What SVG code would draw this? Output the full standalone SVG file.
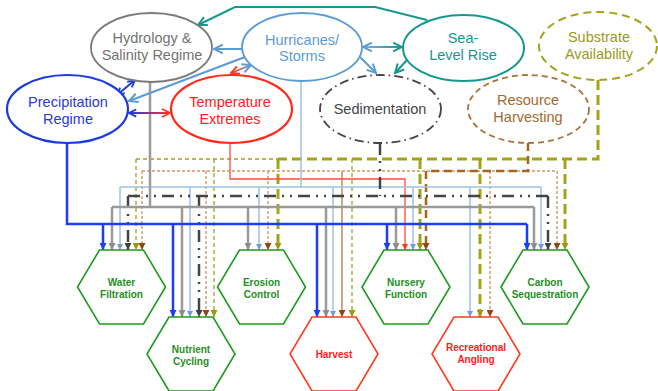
<svg xmlns="http://www.w3.org/2000/svg" width="658" height="391" viewBox="0 0 658 391">
<defs>
<style>
.lbl{font-family:"Liberation Sans",Arial,sans-serif;font-size:14.5px;text-anchor:middle}
.hx{font-family:"Liberation Sans",Arial,sans-serif;font-size:10px;font-weight:bold;text-anchor:middle}
.hexg{fill:#fff;stroke:#1e9a1e;stroke-width:1.6}
.hexr{fill:#fff;stroke:#ff3b1f;stroke-width:1.6}
.ln{fill:none}
.blue{stroke:#1a3cff;stroke-width:2.5}
.gray{stroke:#9a9a9a;stroke-width:2.5}
.lb{stroke:#9cc0e6;stroke-width:1.5}
.dk{stroke:#444;stroke-width:2.5;stroke-dasharray:12 6 2 6 2 6}
.red{stroke:#ff4a3a;stroke-width:1.3}
.olT{stroke:#a3a31a;stroke-width:3;stroke-dasharray:10 5}
.olt{stroke:#a3a31a;stroke-width:1.3;stroke-dasharray:4 3}
.brT{stroke:#a8641f;stroke-width:2.5;stroke-dasharray:8 5}
.brt{stroke:#c99a66;stroke-width:1.4;stroke-dasharray:3 2}
.brs{stroke:#b07a40;stroke-width:1.3}
</style>
<marker id="aBlue" viewBox="0 0 10 10" refX="10" refY="5" markerWidth="7" markerHeight="7" markerUnits="userSpaceOnUse" orient="auto"><path d="M0,0L10,5L0,10z" fill="#1a3cff"/></marker>
<marker id="aGray" viewBox="0 0 10 10" refX="10" refY="5" markerWidth="7" markerHeight="7" markerUnits="userSpaceOnUse" orient="auto"><path d="M0,0L10,5L0,10z" fill="#8c8c8c"/></marker>
<marker id="aLb" viewBox="0 0 10 10" refX="10" refY="5" markerWidth="6" markerHeight="6" markerUnits="userSpaceOnUse" orient="auto"><path d="M0,0L10,5L0,10z" fill="#6f9fd6"/></marker>
<marker id="aDk" viewBox="0 0 10 10" refX="10" refY="5" markerWidth="7" markerHeight="7" markerUnits="userSpaceOnUse" orient="auto"><path d="M0,0L10,5L0,10z" fill="#404040"/></marker>
<marker id="aRed" viewBox="0 0 10 10" refX="10" refY="5" markerWidth="6" markerHeight="6" markerUnits="userSpaceOnUse" orient="auto"><path d="M0,0L10,5L0,10z" fill="#ff3322"/></marker>
<marker id="aOl" viewBox="0 0 10 10" refX="10" refY="5" markerWidth="7" markerHeight="7" markerUnits="userSpaceOnUse" orient="auto"><path d="M0,0L10,5L0,10z" fill="#9a9a10"/></marker>
<marker id="aBr" viewBox="0 0 10 10" refX="10" refY="5" markerWidth="7" markerHeight="7" markerUnits="userSpaceOnUse" orient="auto"><path d="M0,0L10,5L0,10z" fill="#8a4a12"/></marker>
<marker id="vTeal" viewBox="0 0 10 10" refX="9" refY="5" markerWidth="11" markerHeight="11" markerUnits="userSpaceOnUse" orient="auto-start-reverse"><path d="M1,1L9,5L1,9" fill="none" stroke="#17988f" stroke-width="1.8"/></marker>
<marker id="vSteel" viewBox="0 0 10 10" refX="9" refY="5" markerWidth="11" markerHeight="11" markerUnits="userSpaceOnUse" orient="auto-start-reverse"><path d="M1,1L9,5L1,9" fill="none" stroke="#5b9bd5" stroke-width="1.8"/></marker>
<marker id="vBlue" viewBox="0 0 10 10" refX="9" refY="5" markerWidth="9" markerHeight="9" markerUnits="userSpaceOnUse" orient="auto-start-reverse"><path d="M1,1L9,5L1,9" fill="none" stroke="#1a3adf" stroke-width="2"/></marker>
<marker id="vRed" viewBox="0 0 10 10" refX="9" refY="5" markerWidth="10" markerHeight="10" markerUnits="userSpaceOnUse" orient="auto-start-reverse"><path d="M1,1L9,5L1,9" fill="none" stroke="#ff3322" stroke-width="1.8"/></marker>
<linearGradient id="gPT" gradientUnits="userSpaceOnUse" x1="128" y1="113" x2="171" y2="113"><stop offset="0" stop-color="#1a3adf"/><stop offset="1" stop-color="#ff3322"/></linearGradient>
<linearGradient id="gHT" gradientUnits="userSpaceOnUse" x1="252" y1="65" x2="230" y2="73"><stop offset="0" stop-color="#5b9bd5"/><stop offset="1" stop-color="#ff3322"/></linearGradient>
<linearGradient id="gHS" gradientUnits="userSpaceOnUse" x1="362" y1="47" x2="403" y2="47"><stop offset="0" stop-color="#7fb0e0"/><stop offset="1" stop-color="#17988f"/></linearGradient>
</defs>
<rect width="658" height="391" fill="#fff"/>

<g id="connectors">
<path class="ln olt" d="M136,159H278"/>
<path class="ln olt" d="M136,159V250" marker-end="url(#aOl)"/>
<path class="ln olt" d="M214,159V317" marker-end="url(#aOl)"/>
<path class="ln olt" d="M352,159V317" marker-end="url(#aOl)"/>
<path class="ln olT" d="M598,80V159H278"/>
<path class="ln olT" d="M278,159V250" marker-end="url(#aOl)"/>
<path class="ln olT" d="M420,159V250" marker-end="url(#aOl)"/>
<path class="ln olT" d="M480,159V317" marker-end="url(#aOl)"/>
<path class="ln olT" d="M565,159V250" marker-end="url(#aOl)"/>
<path class="ln brt" d="M142,171H557"/>
<path class="ln brt" d="M142,171V250" marker-end="url(#aBr)"/>
<path class="ln brt" d="M206,171V317" marker-end="url(#aBr)"/>
<path class="ln brt" d="M268,171V250" marker-end="url(#aBr)"/>
<path class="ln brt" d="M490,171V317" marker-end="url(#aBr)"/>
<path class="ln brt" d="M557,171V250" marker-end="url(#aBr)"/>
<path class="ln brs" d="M342,171V317" marker-end="url(#aBr)"/>
<path class="ln brT" d="M528,143V171H426V250" marker-end="url(#aBr)"/>
<path class="ln red" d="M230,143V179H405V250" marker-end="url(#aRed)"/>
<path class="ln lb" d="M301,81V187"/>
<path class="ln lb" d="M120,187H541"/>
<path class="ln lb" d="M120,187V250" marker-end="url(#aLb)"/>
<path class="ln lb" d="M190,187V317" marker-end="url(#aLb)"/>
<path class="ln lb" d="M259,187V250" marker-end="url(#aLb)"/>
<path class="ln lb" d="M333,187V317" marker-end="url(#aLb)"/>
<path class="ln lb" d="M413,187V250" marker-end="url(#aLb)"/>
<path class="ln lb" d="M470,187V317" marker-end="url(#aLb)"/>
<path class="ln lb" d="M541,187V250" marker-end="url(#aLb)"/>
<path class="ln dk" d="M380,143V196"/>
<path class="ln dk" d="M128,196H548"/>
<path class="ln dk" d="M128,196V250" marker-end="url(#aDk)"/>
<path class="ln dk" d="M199,196V317" marker-end="url(#aDk)"/>
<path class="ln dk" d="M548,196V250" marker-end="url(#aDk)"/>
<path class="ln gray" d="M150,82V207"/>
<path class="ln gray" d="M112,207H534"/>
<path class="ln gray" d="M112,207V250" marker-end="url(#aGray)"/>
<path class="ln gray" d="M182,207V317" marker-end="url(#aGray)"/>
<path class="ln gray" d="M248,207V250" marker-end="url(#aGray)"/>
<path class="ln gray" d="M326,207V317" marker-end="url(#aGray)"/>
<path class="ln gray" d="M396,207V250" marker-end="url(#aGray)"/>
<path class="ln gray" d="M534,207V250" marker-end="url(#aGray)"/>
<path class="ln blue" d="M67,143V224H527"/>
<path class="ln blue" d="M103,224V250" marker-end="url(#aBlue)"/>
<path class="ln blue" d="M173,224V317" marker-end="url(#aBlue)"/>
<path class="ln blue" d="M317,224V317" marker-end="url(#aBlue)"/>
<path class="ln blue" d="M387,224V250" marker-end="url(#aBlue)"/>
<path class="ln blue" d="M527,224V250" marker-end="url(#aBlue)"/>
<path class="ln" d="M427,20L375,7H235L198,25" stroke="#17988f" stroke-width="2" marker-end="url(#vTeal)"/>
<path class="ln" d="M242,49H214" stroke="#5b9bd5" stroke-width="2" marker-end="url(#vSteel)"/>
<path class="ln" d="M245,57L129,101" stroke="#5b9bd5" stroke-width="2" marker-end="url(#vSteel)"/>
<path class="ln" d="M117,95L135,80" stroke="#1a3adf" stroke-width="2" marker-start="url(#vBlue)" marker-end="url(#vBlue)"/>
<path class="ln" d="M129,113H170" stroke="url(#gPT)" stroke-width="2" marker-start="url(#vBlue)" marker-end="url(#vRed)"/>
<path class="ln" d="M251,65L231,73" stroke="url(#gHT)" stroke-width="1.8" marker-start="url(#vSteel)" marker-end="url(#vRed)"/>
<path class="ln" d="M363,47H402" stroke="url(#gHS)" stroke-width="2" marker-start="url(#vSteel)" marker-end="url(#vTeal)"/>
<path class="ln" d="M360,57L376,73" stroke="#5b9bd5" stroke-width="2" marker-end="url(#vSteel)"/>
<path class="ln" d="M407,60L395,73" stroke="#17988f" stroke-width="2" marker-end="url(#vTeal)"/>
</g>

<g id="hydrology">
<ellipse cx="151.5" cy="47.5" rx="60.5" ry="34.5" fill="#fff" stroke="#7a7a7a" stroke-width="1.8"/>
<text class="lbl" x="152" y="43.2" fill="#737373">Hydrology &amp;</text>
<text class="lbl" x="152" y="59.7" fill="#737373">Salinity Regime</text>
</g>
<g id="hurricanes">
<ellipse cx="302" cy="47" rx="60" ry="34" fill="#fff" stroke="#5b9bd5" stroke-width="1.8"/>
<text class="lbl" x="302" y="44.7" fill="#5b9bd5">Hurricanes/</text>
<text class="lbl" x="302" y="61.2" fill="#5b9bd5">Storms</text>
</g>
<g id="sealevel">
<ellipse cx="463.5" cy="48" rx="60.5" ry="33" fill="#fff" stroke="#17988f" stroke-width="2"/>
<text class="lbl" x="463" y="43.2" fill="#17988f">Sea-</text>
<text class="lbl" x="463" y="59.7" fill="#17988f">Level Rise</text>
</g>
<g id="substrate">
<ellipse cx="598" cy="46" rx="59" ry="34" fill="#fff" stroke="#a3a31a" stroke-width="2" stroke-dasharray="8 5"/>
<text class="lbl" x="599" y="42.2" fill="#9a9a20">Substrate</text>
<text class="lbl" x="599" y="58.7" fill="#9a9a20">Availability</text>
</g>
<g id="resource">
<ellipse cx="528.5" cy="109" rx="60.5" ry="34" fill="#fff" stroke="#a8733a" stroke-width="1.8" stroke-dasharray="6 4"/>
<text class="lbl" x="528" y="105.2" fill="#a06a30">Resource</text>
<text class="lbl" x="528" y="121.7" fill="#a06a30">Harvesting</text>
</g>
<g id="sedimentation">
<ellipse cx="380.5" cy="109" rx="60.5" ry="34" fill="#fff" stroke="#444" stroke-width="1.8" stroke-dasharray="9 4 1.5 4"/>
<text class="lbl" x="380" y="114" fill="#444">Sedimentation</text>
</g>
<g id="precipitation">
<ellipse cx="67.5" cy="109" rx="60.5" ry="34" fill="#fff" stroke="#1a3adf" stroke-width="2.2"/>
<text class="lbl" x="68" y="107.2" fill="#2a3ad8">Precipitation</text>
<text class="lbl" x="68" y="123.7" fill="#2a3ad8">Regime</text>
</g>
<g id="temperature">
<ellipse cx="231.5" cy="109" rx="60.5" ry="34" fill="#fff" stroke="#ff2a1a" stroke-width="2.2"/>
<text class="lbl" x="230" y="107.2" fill="#ff2020">Temperature</text>
<text class="lbl" x="230" y="123.7" fill="#ff2020">Extremes</text>
</g>

<g id="water-filtration">
<polygon class="hexg" points="99.5,250 143.5,250 165.5,287 143.5,324 99.5,324 77.5,287"/>
<text class="hx" x="121.5" y="286" fill="#1f8f1f">Water</text>
<text class="hx" x="121.5" y="298" fill="#1f8f1f">Filtration</text>
</g>
<g id="nutrient-cycling">
<polygon class="hexg" points="169,317 213,317 235,354 213,391 169,391 147,354"/>
<text class="hx" x="191" y="353" fill="#1f8f1f">Nutrient</text>
<text class="hx" x="191" y="365" fill="#1f8f1f">Cycling</text>
</g>
<g id="erosion-control">
<polygon class="hexg" points="239.5,250 283.5,250 305.5,287 283.5,324 239.5,324 217.5,287"/>
<text class="hx" x="261.5" y="286" fill="#1f8f1f">Erosion</text>
<text class="hx" x="261.5" y="298" fill="#1f8f1f">Control</text>
</g>
<g id="harvest">
<polygon class="hexr" points="312,317 356,317 378,354 356,391 312,391 290,354"/>
<text class="hx" x="334" y="358" fill="#ff2020">Harvest</text>
</g>
<g id="nursery-function">
<polygon class="hexg" points="384,250 428,250 450,287 428,324 384,324 362,287"/>
<text class="hx" x="406" y="286" fill="#1f8f1f">Nursery</text>
<text class="hx" x="406" y="298" fill="#1f8f1f">Function</text>
</g>
<g id="recreational-angling">
<polygon class="hexr" points="454,317 498,317 520,354 498,391 454,391 432,354"/>
<text class="hx" x="476" y="351" fill="#ff2020">Recreational</text>
<text class="hx" x="476" y="363" fill="#ff2020">Angling</text>
</g>
<g id="carbon-sequestration">
<polygon class="hexg" points="523,250 567,250 589,287 567,324 523,324 501,287"/>
<text class="hx" x="545" y="286" fill="#1f8f1f">Carbon</text>
<text class="hx" x="545" y="298" fill="#1f8f1f">Sequestration</text>
</g>
</svg>
